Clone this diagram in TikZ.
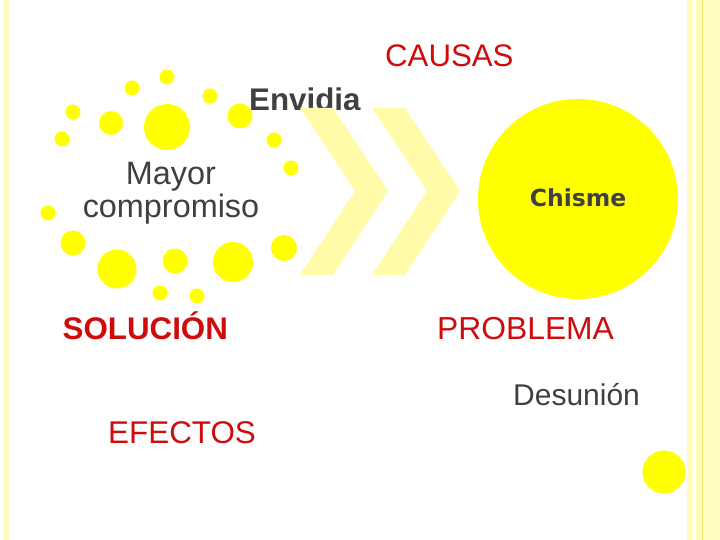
\documentclass[tikz,border=0pt]{standalone}
\usepackage{fontspec}
\setmainfont{Liberation Sans}
\newfontfamily\dejavu{DejaVu Sans}
\definecolor{ty}{RGB}{255,255,0}
\definecolor{pale}{RGB}{255,251,168}
\definecolor{strip}{RGB}{255,253,190}
\definecolor{stripline}{RGB}{250,235,110}
\definecolor{tred}{RGB}{206,12,12}
\definecolor{tgray}{RGB}{64,64,64}
\tikzset{
  lbl/.style={inner sep=0pt, anchor=base west, font=\fontsize{30}{34}\selectfont},
  redlbl/.style={lbl, text=tred},
  graylbl/.style={lbl, text=tgray},
  chev/.style={fill=pale}
}
\begin{document}
\begin{tikzpicture}[x=1pt,y=-1pt]
\useasboundingbox (0,0) rectangle (720,540);
\fill[white] (0,0) rectangle (720,540);
% borders
\fill[strip] (3,0) rectangle (8.5,540);
\fill[strip] (687,0) rectangle (692.5,540);
\fill[strip] (696,0) rectangle (720,540);
\draw[stripline, line width=0.6pt] (702.3,0) -- (702.3,540);
% Envidia (clipped at bottom)
\begin{scope}
\clip (200,60) rectangle (400,110);
\node[lbl, text=tgray, font=\fontsize{31.3}{34}\selectfont\bfseries] (envidia) at (249,110.5) {Envidia};
\end{scope}
% chevrons
\fill[chev] (300,108) -- (333,108) -- (388,191) -- (333,275) -- (300,275) -- (355,191) -- cycle;
\fill[chev] (372,108) -- (405,108) -- (460,191) -- (405,275) -- (372,275) -- (427,191) -- cycle;
% dots
\foreach \x/\y/\r in {167/77/7.5, 132/88/7.5, 210/96/7.5, 73/112/7.5, 111/123/12, 167/127/23,
  240/116/12.5, 274/140/7.5, 62/139/7.5, 291/168/7.5, 48/213/7.5, 73/243/12.5,
  117/269/19.5, 175/261/12.5, 233/262/20, 284/248/13, 160/293/7.5, 197/296/7.5}
  \fill[ty] (\x,\y) circle (\r);
% big circle
\fill[ty] (578,199) circle (100);
\fill[ty] (664,472) circle (21.5);
% texts
\node[redlbl, font=\fontsize{31.2}{34}\selectfont] (causas) at (385,67) {CAUSAS};
\node[inner sep=0pt, text=tgray, align=center, font=\fontsize{32.4}{33.5}\selectfont] (mayor) at (171,193) {Mayor\\compromiso};
\node[inner sep=0pt, text=tgray, font=\dejavu\bfseries\fontsize{23.5}{28}\selectfont] (chisme) at (578,198) {Chisme};
\node[redlbl, font=\fontsize{31.3}{34}\selectfont\bfseries] (solucion) at (62.5,339) {SOLUCIÓN};
\node[redlbl, font=\fontsize{31.8}{34}\selectfont] (problema) at (437,339.5) {PROBLEMA};
\node[graylbl] (desunion) at (513,405) {Desunión};
\node[redlbl, font=\fontsize{31.4}{34}\selectfont] (efectos) at (108,443.5) {EFECTOS};
\end{tikzpicture}
\end{document}
